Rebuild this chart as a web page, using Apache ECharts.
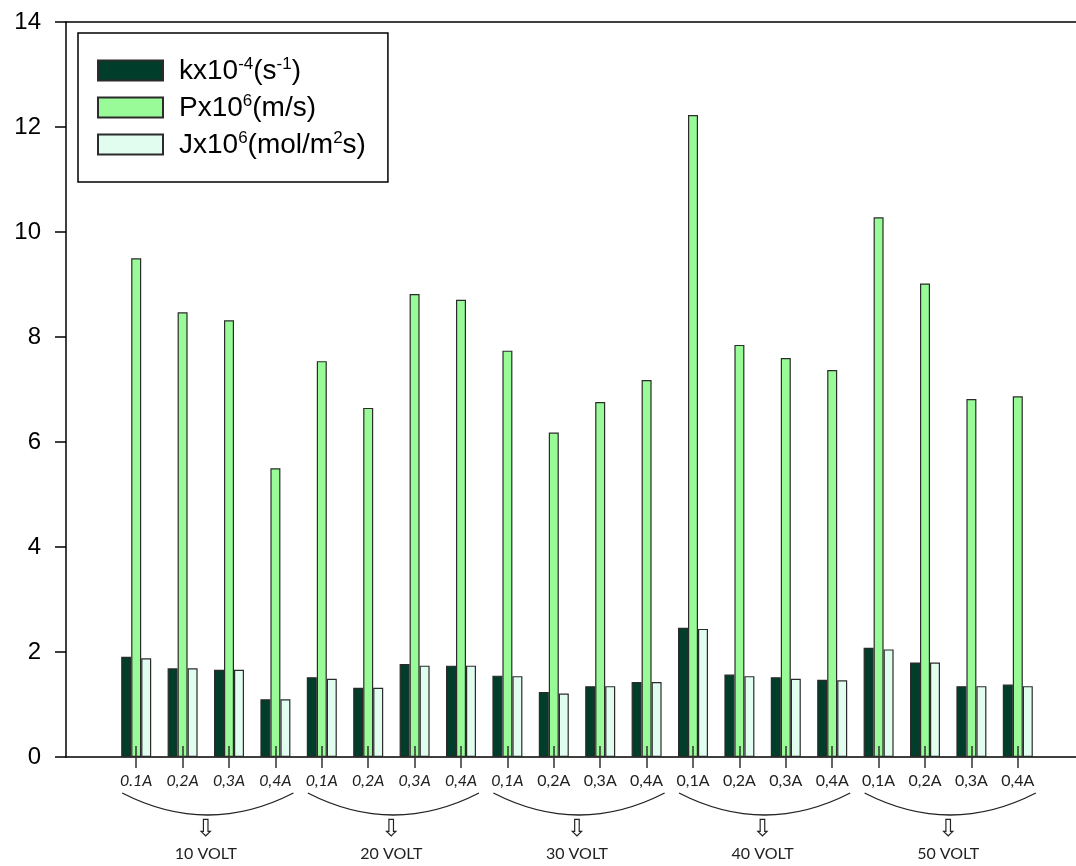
<!DOCTYPE html>
<html>
<head>
<meta charset="utf-8">
<script src="https://cdn.jsdelivr.net/npm/echarts@6/dist/echarts.min.js"></script>
<style>
  html, body { margin: 0; padding: 0; background: #fff; }
  #chart { width: 1076px; height: 866px; }
</style>
</head>
<body>
<div id="chart"></div>
<script>
// current labels under each bar group (first 9 are italic in the original)
var currents = ['0.1A', '0,2A', '0,3A', '0,4A',
                '0,1A', '0,2A', '0,3A', '0,4A',
                '0,1A', '0,2A', '0,3A', '0,4A',
                '0,1A', '0,2A', '0,3A', '0,4A',
                '0,1A', '0,2A', '0,3A', '0,4A'];
var italicCount = 9;
var volts = ['10 VOLT', '20 VOLT', '30 VOLT', '40 VOLT', '50 VOLT'];
var yTicks = [0, 2, 4, 6, 8, 10, 12, 14];

// kx10^-4 (s^-1)
var kValues = [1.91, 1.69, 1.66, 1.10, 1.52, 1.32, 1.77, 1.74, 1.55, 1.24,
               1.35, 1.43, 2.46, 1.57, 1.52, 1.47, 2.08, 1.80, 1.35, 1.38];
// Px10^6 (m/s)
var pValues = [9.50, 8.47, 8.32, 5.50, 7.54, 6.65, 8.82, 8.71, 7.74, 6.18,
               6.76, 7.18, 12.23, 7.85, 7.60, 7.37, 10.28, 9.02, 6.82, 6.87];
// Jx10^6 (mol/m^2 s)
var jValues = [1.88, 1.69, 1.66, 1.10, 1.49, 1.32, 1.74, 1.74, 1.54, 1.21,
               1.35, 1.43, 2.44, 1.54, 1.49, 1.46, 2.05, 1.80, 1.35, 1.35];

var names = ['kx10-4(s-1)', 'Px10^6(m/s)', 'Jx10^6(mol/m2s)'];
var legendRich = {};
legendRich[names[0]] = '{f|kx10}{s|-4}{b|(s}{s|-1}{b|)}';
legendRich[names[1]] = '{f|Px10}{s|6}{b|(m/s)}';
legendRich[names[2]] = '{f|Jx10}{s|6}{b|(mol/m}{s|2}{b|s)}';

var myChart = echarts.init(document.getElementById('chart'));

var lineStyle = { color: '#000', width: 1.5 };
var barBorder = { borderColor: '#2b2b2b', borderWidth: 1.2 };

var options = {
  animation: false,
  backgroundColor: '#fff',
  grid: [
    { left: 66, right: 0, top: 22, bottom: 109 },
    { left: 113, width: 928, top: 22, bottom: 109 }
  ],
  legend: {
    left: 78,
    top: 33,
    orient: 'vertical',
    data: names,
    icon: 'rect',
    itemWidth: 65,
    itemHeight: 20,
    itemGap: 7,
    padding: [23, 22, 22, 19],
    backgroundColor: '#fff',
    borderColor: '#000',
    borderWidth: 1.5,
    borderRadius: 0,
    formatter: function (n) { return legendRich[n]; },
    textStyle: {
      fontFamily: 'Liberation Sans',
      fontSize: 28,
      color: '#000',
      rich: {
        f: { fontFamily: 'Liberation Sans', fontSize: 28, lineHeight: 29, color: '#000', padding: [0, 0, 0, 11], verticalAlign: 'bottom' },
        b: { fontFamily: 'Liberation Sans', fontSize: 28, lineHeight: 29, color: '#000', verticalAlign: 'bottom' },
        s: { fontFamily: 'Liberation Sans', fontSize: 17, lineHeight: 29, color: '#000', verticalAlign: 'top', padding: [0, 0, 13, 0] }
      }
    }
  },
  xAxis: [
    {
      gridIndex: 0, type: 'value', min: 0, max: 1, position: 'bottom',
      axisLine: { show: true, onZero: false, lineStyle: lineStyle },
      axisTick: { show: false }, axisLabel: { show: false }, splitLine: { show: false }
    },
    {
      gridIndex: 0, type: 'value', min: 0, max: 1, position: 'top',
      axisLine: { show: true, onZero: false, lineStyle: lineStyle },
      axisTick: { show: false }, axisLabel: { show: false }, splitLine: { show: false }
    },
    {
      gridIndex: 1, type: 'category', data: currents, position: 'bottom',
      axisLine: { show: false, onZero: false },
      axisTick: { show: true, alignWithLabel: true, length: 11, lineStyle: { color: '#333', width: 1.5 } },
      axisLabel: {
        margin: 16,
        interval: 0,
        formatter: function (v, i) {
          return (i < italicCount ? '{it|' : '{n|') + v + '}';
        },
        rich: {
          it: { fontFamily: 'Lato', fontSize: 16, fontStyle: 'italic', color: '#222' },
          n: { fontFamily: 'Lato', fontSize: 16, color: '#222' }
        }
      }
    },
    {
      gridIndex: 1, type: 'category', data: currents, position: 'bottom', z: 10,
      axisLine: { show: false, onZero: false },
      axisTick: { show: true, inside: true, alignWithLabel: true, length: 11, lineStyle: { color: '#333', width: 1.5 } },
      axisLabel: { show: false }
    },
    {
      gridIndex: 1, type: 'category', data: volts, position: 'bottom',
      axisLine: { show: false, onZero: false },
      axisTick: { show: false },
      axisLabel: {
        margin: 59,
        interval: 0,
        formatter: function (v) { return '{a|⇩}\n{v|' + v + '}'; },
        rich: {
          a: { fontFamily: 'DejaVu Sans', fontSize: 24, lineHeight: 28, color: '#222' },
          v: { fontFamily: 'Lato', fontSize: 16, lineHeight: 20, color: '#222' }
        }
      }
    }
  ],
  yAxis: [
    {
      gridIndex: 0, type: 'value', min: 0, max: 14, interval: 2,
      axisLine: { show: true, onZero: false, lineStyle: lineStyle },
      axisTick: { show: true, length: 11, lineStyle: lineStyle },
      axisLabel: { margin: 25, fontFamily: 'Liberation Sans', fontSize: 24, color: '#000',
        formatter: function (v) { return yTicks.indexOf(v) >= 0 ? String(v) : ''; } },
      splitLine: { show: false }
    },
    { gridIndex: 1, type: 'value', min: 0, max: 14, show: false }
  ],
  series: [
    {
      name: names[0], type: 'bar', xAxisIndex: 2, yAxisIndex: 1,
      data: kValues, barWidth: 10, barGap: '0%',
      itemStyle: Object.assign({ color: '#003d2b' }, barBorder)
    },
    {
      name: names[1], type: 'bar', xAxisIndex: 2, yAxisIndex: 1,
      data: pValues, barWidth: 10, barGap: '0%',
      itemStyle: Object.assign({ color: '#98fb98' }, barBorder)
    },
    {
      name: names[2], type: 'bar', xAxisIndex: 2, yAxisIndex: 1,
      data: jValues, barWidth: 10, barGap: '0%',
      itemStyle: Object.assign({ color: '#e0fdf0' }, barBorder)
    }
  ]
};

myChart.setOption(options, true);

// braces under each group of four currents, placed from the category axis
var base = myChart.convertToPixel({ yAxisIndex: 1 }, 0);
var braces = [];
for (var g = 0; g < volts.length; g++) {
  var xa = myChart.convertToPixel({ xAxisIndex: 2 }, g * 4) - 14;
  var xb = myChart.convertToPixel({ xAxisIndex: 2 }, g * 4 + 3) + 18;
  braces.push({
    type: 'bezierCurve',
    shape: { x1: xa, y1: base + 36, x2: xb, y2: base + 36, cpx1: (xa + xb) / 2, cpy1: base + 80 },
    style: { stroke: '#222', lineWidth: 1.3, fill: null },
    silent: true
  });
}
myChart.setOption({ graphic: braces });
</script>
</body>
</html>
